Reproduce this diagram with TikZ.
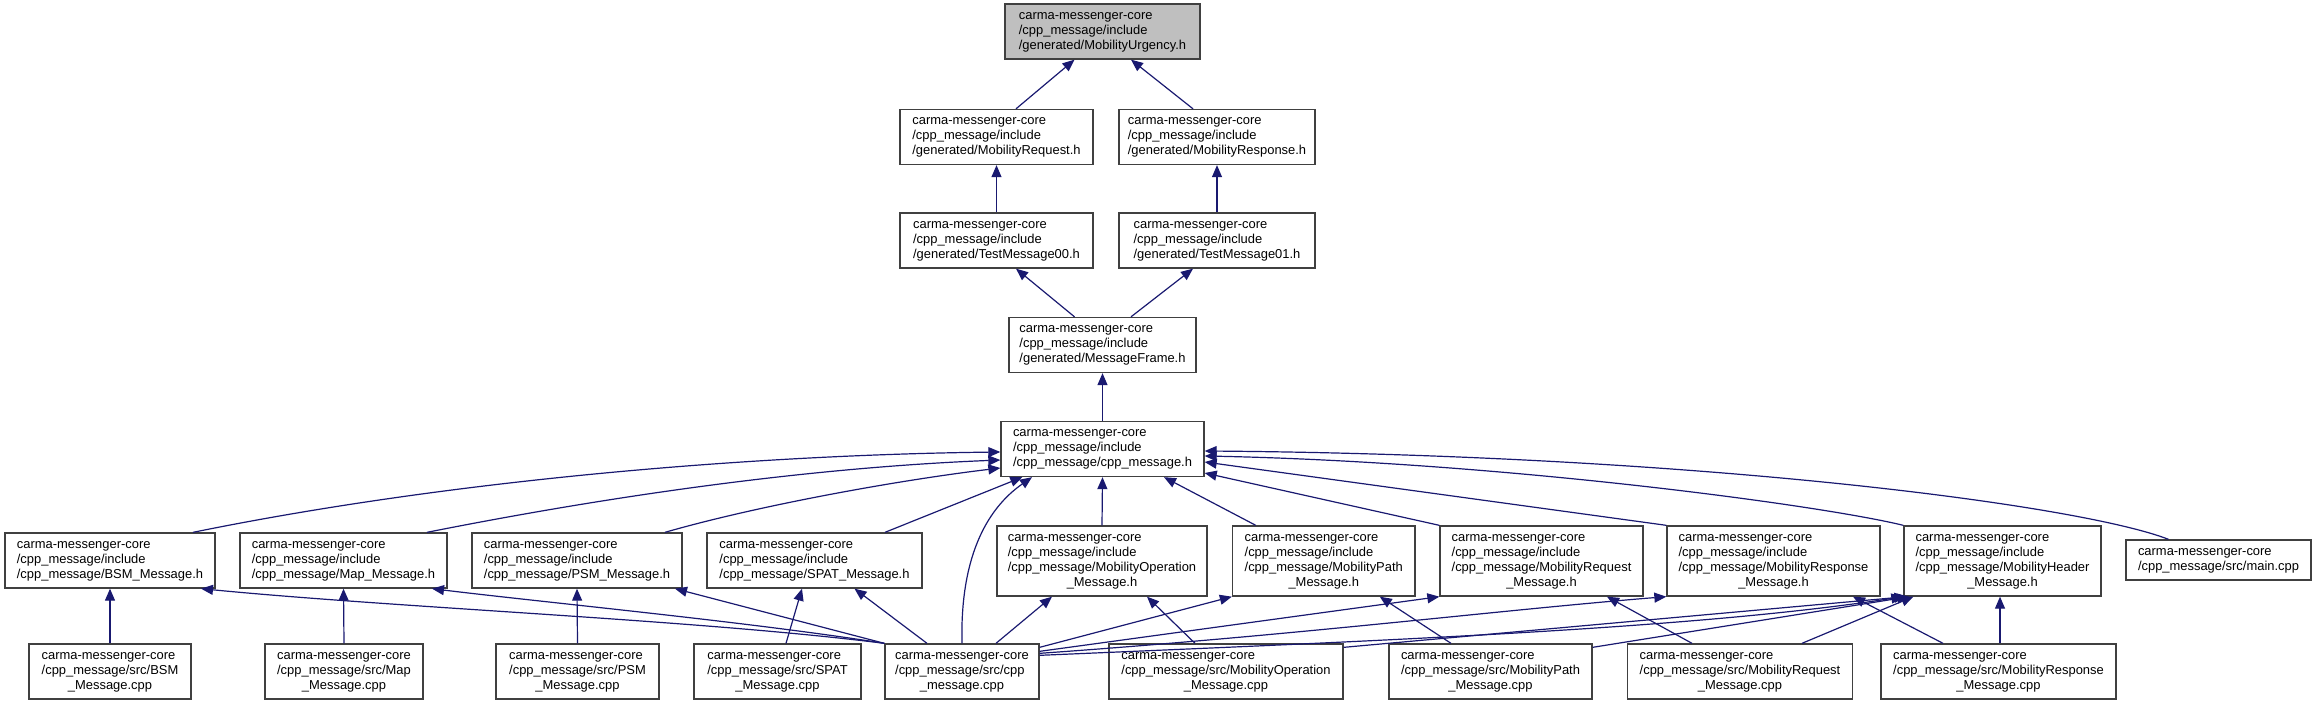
\documentclass[tikz,border=0pt]{standalone}
\usepackage{fontspec}
\setmainfont{Liberation Sans}
\usetikzlibrary{arrows.meta,calc}
\definecolor{edgecol}{HTML}{191970}
\definecolor{boxcol}{HTML}{404040}
\definecolor{hlfill}{HTML}{BFBFBF}
\newcommand\ltwo[2]{\begin{tabular}{@{}l@{}}#1\\\multicolumn{1}{@{}c@{}}{#2}\end{tabular}}
\newcommand\lthree[3]{\begin{tabular}{@{}l@{}}#1\\#2\\\multicolumn{1}{@{}c@{}}{#3}\end{tabular}}
\newcommand\lfour[4]{\begin{tabular}{@{}l@{}}#1\\#2\\#3\\\multicolumn{1}{@{}c@{}}{#4}\end{tabular}}
\newcommand\nd[7][]{\node[box,#1,minimum width={#5*0.75pt},minimum height={#6*0.75pt}] (#2) at (#3,#4) {#7};}
\newcommand\cmc{carma-messenger-core}
\begin{document}
\begin{tikzpicture}[x=0.75pt,y=-0.75pt,
  box/.style={draw=boxcol,line width=1pt,fill=white,inner sep=0pt,font=\fontsize{9.7}{11.25}\selectfont},
  conn/.style={draw=edgecol,line width=0.9pt,-{Triangle[length=9pt,width=7.5pt]}}]
\useasboundingbox (0,0) rectangle (2317,705);
% rows 1-5
\nd[fill=hlfill]{urg}{1102.5}{31.5}{195}{55}{\lthree{\cmc}{/cpp\_message/include}{/generated/MobilityUrgency.h}}
\nd{reqG}{996.5}{137}{193}{55}{\lthree{\cmc}{/cpp\_message/include}{/generated/MobilityRequest.h}}
\nd{respG}{1217}{137}{196}{55}{\lthree{\cmc}{/cpp\_message/include}{/generated/MobilityResponse.h}}
\nd{t00}{996.5}{240.5}{193}{55}{\lthree{\cmc}{/cpp\_message/include}{/generated/TestMessage00.h}}
\nd{t01}{1217}{240.5}{196}{55}{\lthree{\cmc}{/cpp\_message/include}{/generated/TestMessage01.h}}
\nd{mf}{1102.5}{345}{187}{55}{\lthree{\cmc}{/cpp\_message/include}{/generated/MessageFrame.h}}
\nd{cppH}{1102.5}{449}{203}{55}{\lthree{\cmc}{/cpp\_message/include}{/cpp\_message/cpp\_message.h}}
% row 6
\nd{bsmH}{110}{560.5}{210}{55}{\lthree{\cmc}{/cpp\_message/include}{/cpp\_message/BSM\_Message.h}}
\nd{mapH}{343.5}{560.5}{207}{55}{\lthree{\cmc}{/cpp\_message/include}{/cpp\_message/Map\_Message.h}}
\nd{psmH}{577}{560.5}{210}{55}{\lthree{\cmc}{/cpp\_message/include}{/cpp\_message/PSM\_Message.h}}
\nd{spatH}{814.5}{560.5}{215}{55}{\lthree{\cmc}{/cpp\_message/include}{/cpp\_message/SPAT\_Message.h}}
\nd{opH}{1102}{561}{210}{70}{\lfour{\cmc}{/cpp\_message/include}{/cpp\_message/MobilityOperation}{\_Message.h}}
\nd{pathH}{1323.75}{561}{182.5}{70}{\lfour{\cmc}{/cpp\_message/include}{/cpp\_message/MobilityPath}{\_Message.h}}
\nd{reqH}{1541.5}{561}{203}{70}{\lfour{\cmc}{/cpp\_message/include}{/cpp\_message/MobilityRequest}{\_Message.h}}
\nd{respH}{1773.5}{561}{213}{70}{\lfour{\cmc}{/cpp\_message/include}{/cpp\_message/MobilityResponse}{\_Message.h}}
\nd{hdrH}{2002.5}{561}{197}{70}{\lfour{\cmc}{/cpp\_message/include}{/cpp\_message/MobilityHeader}{\_Message.h}}
\nd{mainC}{2218.5}{560}{185}{40}{\ltwo{\cmc}{/cpp\_message/src/main.cpp}}
% row 7
\nd{bsmC}{110}{671.5}{162}{55}{\lthree{\cmc}{/cpp\_message/src/BSM}{\_Message.cpp}}
\nd{mapC}{344}{671.5}{158}{55}{\lthree{\cmc}{/cpp\_message/src/Map}{\_Message.cpp}}
\nd{psmC}{577.5}{671.5}{163}{55}{\lthree{\cmc}{/cpp\_message/src/PSM}{\_Message.cpp}}
\nd{spatC}{777.5}{671.5}{167}{55}{\lthree{\cmc}{/cpp\_message/src/SPAT}{\_Message.cpp}}
\nd{cppC}{962}{671.5}{154}{55}{\lthree{\cmc}{/cpp\_message/src/cpp}{\_message.cpp}}
\nd{opC}{1226}{671.5}{234}{55}{\lthree{\cmc}{/cpp\_message/src/MobilityOperation}{\_Message.cpp}}
\nd{pathC}{1490.5}{671.5}{203}{55}{\lthree{\cmc}{/cpp\_message/src/MobilityPath}{\_Message.cpp}}
\nd{reqC}{1740}{671.5}{224.5}{55}{\lthree{\cmc}{/cpp\_message/src/MobilityRequest}{\_Message.cpp}}
\nd{respC}{1998.5}{671.5}{235}{55}{\lthree{\cmc}{/cpp\_message/src/MobilityResponse}{\_Message.cpp}}
% edges rows 1-5
\draw[conn] ($(reqG.north)+(19.5,0)$) -- ($(urg.south)+(-28,0)$);
\draw[conn] ($(respG.north)+(-24,0)$) -- ($(urg.south)+(28.5,0)$);
\draw[conn] (t00.north) -- (reqG.south);
\draw[conn] (t01.north) -- (respG.south);
\draw[conn] ($(mf.north)+(-28,0)$) -- ($(t00.south)+(19.5,0)$);
\draw[conn] ($(mf.north)+(28.5,0)$) -- ($(t01.south)+(-24,0)$);
\draw[conn] (cppH.north) -- (mf.south);
% row 6 -> cpp_message.h
\draw[conn] ($(bsmH.north)+(83,0)$) .. controls (450,480) and (750,455) .. ($(cppH.west)+(0,3)$);
\draw[conn] ($(mapH.north)+(83.5,0)$) .. controls (600,498) and (800,468) .. ($(cppH.west)+(0,11)$);
\draw[conn] ($(psmH.north)+(88,0)$) .. controls (760,505) and (900,480) .. ($(cppH.west)+(0,19)$);
\draw[conn] ($(spatH.north)+(70.5,0)$) -- ($(cppH.south west)+(22,0)$);
\draw[conn] (cppC.north) .. controls (960,560) and (985,510) .. ($(cppH.south)+(-70.5,0)$);
\draw[conn] (opH.north) -- (cppH.south);
\draw[conn] ($(pathH.north)+(-68,0)$) -- ($(cppH.south)+(61.5,0)$);
\draw[conn] (reqH.north west) -- ($(cppH.east)+(0,24)$);
\draw[conn] (respH.north west) -- ($(cppH.east)+(0,13)$);
\draw[conn] (hdrH.north west) .. controls (1820,505) and (1500,462) .. ($(cppH.east)+(0,7)$);
\draw[conn] ($(mainC.north)+(-50,0)$) .. controls (2080,505) and (1700,455) .. ($(cppH.east)+(0,2)$);
% row 7 -> row 6
\draw[conn] (bsmC.north) -- (bsmH.south);
\draw[conn] (mapC.north) -- (mapH.south);
\draw[conn] (psmC.north) -- (psmH.south);
\draw[conn] ($(spatC.north)+(8.5,0)$) -- ($(spatH.south)+(-12.5,0)$);
\draw[conn] (cppC.north west) .. controls (700,620) and (400,608) .. ($(bsmH.south)+(91,0)$);
\draw[conn] (cppC.north west) .. controls (750,622) and (550,603) .. ($(mapH.south)+(88.5,0)$);
\draw[conn] (cppC.north west) -- ($(psmH.south)+(98,0)$);
\draw[conn] ($(cppC.north)+(-35,0)$) -- ($(spatH.south)+(40,0)$);
\draw[conn] ($(cppC.north)+(34,0)$) -- ($(opH.south)+(-50,0)$);
\draw[conn] ($(cppC.north east)+(0,4)$) -- (pathH.south west);
\draw[conn] ($(cppC.north east)+(0,8)$) -- (reqH.south west);
\draw[conn] ($(cppC.north east)+(0,10)$) .. controls (1300,635) and (1500,610) .. (respH.south west);
\draw[conn] ($(cppC.north east)+(0,12)$) .. controls (1400,640) and (1700,628) .. (hdrH.south west);
\draw[conn] ($(opC.north)+(-31,0)$) -- ($(opH.south)+(45,0)$);
\draw[conn] ($(opC.north east)+(0,4)$) -- ($(hdrH.south west)+(3,0)$);
\draw[conn] ($(pathC.north)+(-39.5,0)$) -- ($(pathH.south)+(56,0)$);
\draw[conn] ($(pathC.north east)+(0,4)$) -- ($(hdrH.south west)+(6,0)$);
\draw[conn] ($(reqC.north)+(-48,0)$) -- ($(reqH.south)+(65.5,0)$);
\draw[conn] ($(reqC.north)+(62,0)$) -- ($(hdrH.south west)+(10,0)$);
\draw[conn] ($(respC.north)+(-55.5,0)$) -- ($(respH.south)+(79.5,0)$);
\draw[conn] ($(respC.north)+(1.5,0)$) -- ($(hdrH.south)+(-2.5,0)$);
\end{tikzpicture}
\end{document}
